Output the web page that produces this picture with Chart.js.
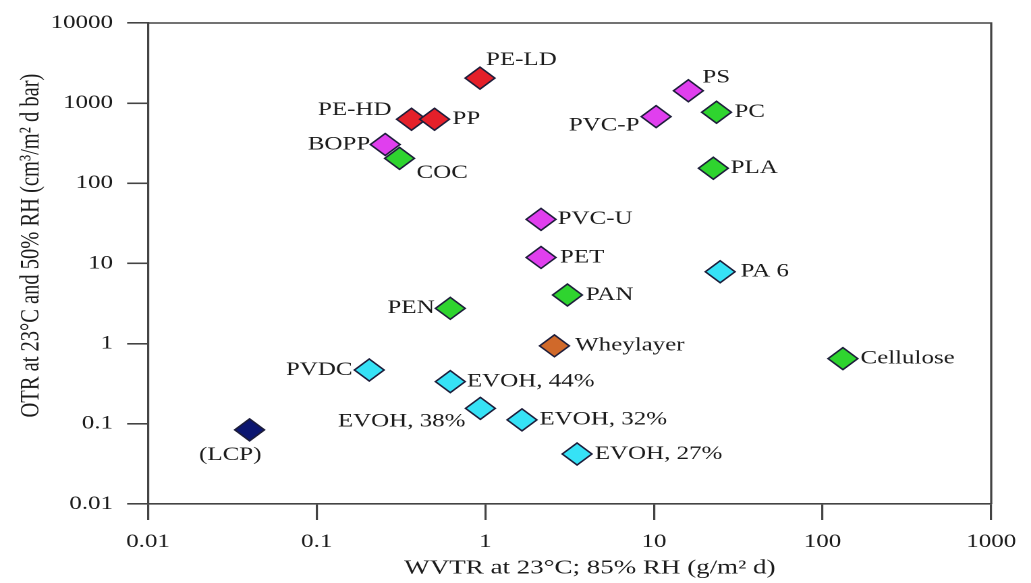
<!DOCTYPE html>
<html>
<head>
<meta charset="utf-8">
<script src="https://cdn.jsdelivr.net/npm/chart.js@4/dist/chart.umd.min.js"></script>
<style>
  html, body { margin: 0; padding: 0; background: #fff; overflow: hidden; }
  /* the source figure is stretched horizontally (~1.35x): draw at 764 wide, scale to 1031 */
  #wrap { position: absolute; left: 0; top: 0; width: 764px; height: 583px;
          transform: scaleX(1.3495); transform-origin: 0 0; }
</style>
</head>
<body>
<div id="wrap"><canvas id="c"></canvas></div>
<script>
// ---- data ----
const FILMS = ["PE-LD", "PE-HD", "PP", "BOPP", "COC", "PS", "PC", "PVC-P", "PLA", "PVC-U", "PET",
  "PA 6", "PAN", "Wheylayer", "Cellulose", "EVOH, 32%", "EVOH, 27%", "PEN", "PVDC", "EVOH, 44%",
  "EVOH, 38%", "(LCP)"];
const WVTR = [0.93, 0.365, 0.5, 0.255, 0.31, 16, 23.5, 10.3, 22.5, 2.14, 2.14,
  24.7, 3.07, 2.57, 132, 1.65, 3.5, 0.62, 0.205, 0.62, 0.935, 0.04];
const OTR = [2050, 630, 630, 305, 205, 1430, 770, 680, 154, 35.5, 11.9,
  7.9, 4.05, 0.94, 0.65, 0.112, 0.042, 2.76, 0.47, 0.336, 0.156, 0.084];
const GROUP = ["red", "red", "red", "magenta", "green", "magenta", "green", "magenta", "green", "magenta", "magenta",
  "cyan", "green", "brown", "green", "cyan", "cyan", "green", "cyan", "cyan", "cyan", "navy"];
const X_TICKS = [0.01, 0.1, 1, 10, 100, 1000];
const X_TICK_LABELS = ["0.01", "0.1", "1", "10", "100", "1000"];
const Y_TICKS = [0.01, 0.1, 1, 10, 100, 1000, 10000];
const Y_TICK_LABELS = ["0.01", "0.1", "1", "10", "100", "1000", "10000"];

// ---- style ----
const COLORS = { red: "#e4202a", magenta: "#e03fee", green: "#2fd42f", cyan: "#36e2f6", brown: "#d0692a", navy: "#0c1670" };
const AXIS = "#444";
const INK = "#1c1c1c";
const SERIF = '"Liberation Serif", "Times New Roman", serif';
// label placement per film: [textAlign, dx, dy] in canvas px from the marker centre
const LABEL_POS = {
  "PE-LD": ["left", 4.5, -18], "PE-HD": ["right", -14.8, -9], "PP": ["left", 13.3, 0],
  "BOPP": ["right", -11.1, 0], "COC": ["left", 12.6, 15], "PS": ["left", 10.4, -13],
  "PC": ["left", 13.3, 0], "PVC-P": ["right", -12.3, 9], "PLA": ["left", 12.8, 0],
  "PVC-U": ["left", 12.3, 0], "PET": ["left", 14, 0], "PA 6": ["left", 15.1, 0],
  "PAN": ["left", 13.6, 0], "Wheylayer": ["left", 15.3, 0], "Cellulose": ["left", 13, 0],
  "EVOH, 32%": ["left", 12.9, 0], "EVOH, 27%": ["left", 13.1, 0], "PEN": ["right", -11.6, 0],
  "PVDC": ["right", -12.4, 0], "EVOH, 44%": ["left", 12.3, 0], "EVOH, 38%": ["right", -11.1, 13.4],
  "(LCP)": ["center", -14.3, 25]
};

const frame = {
  id: "frame",
  beforeDatasetsDraw(chart) {
    const { ctx, chartArea: a } = chart;
    ctx.save();
    ctx.strokeStyle = AXIS; ctx.lineWidth = 1.6;
    ctx.beginPath(); ctx.moveTo(a.left, a.top); ctx.lineTo(a.right, a.top); ctx.lineTo(a.right, a.bottom);
    ctx.stroke(); ctx.restore();
  }
};

const filmLabels = {
  id: "filmLabels",
  afterDatasetsDraw(chart) {
    const ctx = chart.ctx;
    ctx.save();
    ctx.font = "18.5px " + SERIF;
    ctx.fillStyle = INK;
    ctx.textBaseline = "middle";
    chart.getDatasetMeta(0).data.forEach((pt, i) => {
      const [align, dx, dy] = LABEL_POS[FILMS[i]];
      ctx.textAlign = align;
      ctx.fillText(FILMS[i], pt.x + dx, pt.y + dy);
    });
    ctx.restore();
  }
};

new Chart(document.getElementById("c"), {
  type: "scatter",
  data: { datasets: [{
    data: FILMS.map((f, i) => ({ x: WVTR[i], y: OTR[i] })),
    pointStyle: "rectRot", pointRadius: 11, pointHoverRadius: 11,
    backgroundColor: GROUP.map(g => COLORS[g]),
    borderColor: "#1d1d3a", borderWidth: 1.4
  }] },
  options: {
    responsive: true, maintainAspectRatio: false, animation: false, devicePixelRatio: 2, events: [],
    layout: { padding: { left: 0, top: 23, right: 27.4, bottom: 0 } },
    plugins: { legend: { display: false }, tooltip: { enabled: false } },
    scales: {
      x: { type: "logarithmic", min: 0.01, max: 1000,
        afterBuildTicks: s => { s.ticks = X_TICKS.map(v => ({ value: v })); },
        afterFit: s => { s.height = 79; },
        grid: { drawOnChartArea: false, drawTicks: true, tickLength: 16, color: AXIS, lineWidth: 1.6 },
        border: { display: true, color: AXIS, width: 1.6 },
        ticks: { autoSkip: false, maxRotation: 0, padding: 11, color: INK, font: { family: SERIF, size: 18.5 },
          callback: (v, i) => X_TICK_LABELS[i] },
        // leading spaces nudge the centred titles off-centre, as in the source
        title: { display: true, text: "      WVTR at 23°C; 85% RH (g/m² d)", color: INK,
          font: { family: SERIF, size: 20 }, padding: { top: 0, bottom: 3 } } },
      y: { type: "logarithmic", min: 0.01, max: 10000,
        afterBuildTicks: s => { s.ticks = Y_TICKS.map(v => ({ value: v })); },
        afterFit: s => { s.width = 109.7; },
        grid: { drawOnChartArea: false, drawTicks: true, tickLength: 15.5, color: AXIS, lineWidth: 1.6 },
        border: { display: true, color: AXIS, width: 1.6 },
        ticks: { autoSkip: false, padding: 10.4, color: INK, font: { family: SERIF, size: 18.5 },
          callback: (v, i) => Y_TICK_LABELS[i] },
        title: { display: true, text: "       OTR at 23°C and 50% RH (cm³/m² d bar)", color: INK,
          font: { family: SERIF, size: 20.5 }, padding: { top: 10.7, bottom: 0 } } }
    }
  },
  plugins: [frame, filmLabels]
});
</script>
</body>
</html>
